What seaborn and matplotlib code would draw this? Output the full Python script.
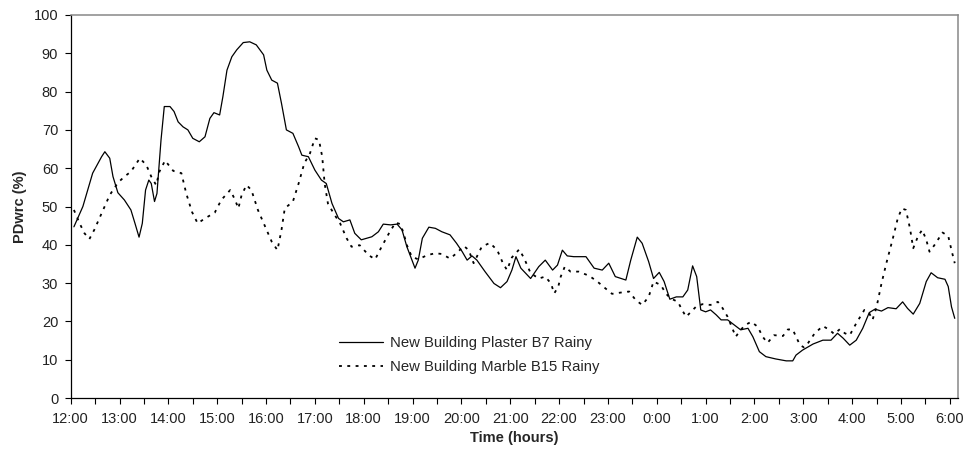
import matplotlib
matplotlib.use("Agg")
import matplotlib.pyplot as plt
import seaborn as sns
import pandas as pd

# Minutes after 12:00 and PDwrc (%) for the plaster room (B7)
plaster_min = [4, 15, 27, 38, 42, 48, 52, 58, 66, 74, 79, 84, 88, 92, 96, 99, 103, 106,
               111, 115, 122, 127, 132, 138, 144, 150, 158, 165, 171, 176, 183, 187, 192,
               198, 204, 212, 220, 228, 237, 241, 247, 254, 259, 265, 273, 280, 284, 292,
               300, 308, 314, 321, 329, 335, 343, 349, 357, 370, 378, 384, 393, 401, 407,
               413, 423, 427, 432, 440, 448, 456, 466, 474, 481, 487, 493, 499, 509, 520,
               528, 536, 542, 547, 553, 565, 575, 583, 592, 598, 604, 610, 618, 633, 643,
               653, 661, 669, 682, 688, 696, 702, 710, 716, 723, 729, 736, 744, 752, 758,
               764, 769, 774, 780, 786, 793, 799, 807, 815, 823, 832, 838, 846, 854, 866,
               879, 887, 891, 899, 912, 924, 934, 942, 949, 957, 965, 973, 981, 988, 996,
               1004, 1014, 1022, 1028, 1035, 1043, 1051, 1057, 1065, 1074, 1078, 1082, 1086]
plaster_val = [44.7, 50.0, 58.7, 63.0, 64.3, 62.6, 57.8, 53.6, 51.7, 49.1, 45.6, 42.0,
               45.6, 54.3, 56.9, 56.0, 51.3, 53.4, 67.4, 76.1, 76.1, 74.8, 72.1, 70.8, 70.0,
               67.8, 66.9, 68.2, 73.0, 74.5, 73.9, 78.7, 85.6, 89.1, 90.9, 92.8, 93.0, 92.2,
               89.6, 85.6, 83.0, 82.2, 76.9, 70.0, 69.1, 65.6, 63.4, 63.0, 59.5, 56.9, 56.0,
               50.8, 46.9, 46.0, 46.5, 43.0, 41.3, 42.1, 43.4, 45.4, 45.2, 45.4, 43.9, 39.5,
               33.9, 36.0, 41.7, 44.6, 44.3, 43.4, 42.6, 40.4, 38.2, 36.0, 37.1, 36.0, 33.0,
               29.9, 28.8, 30.4, 33.4, 36.9, 33.9, 31.2, 34.3, 36.0, 33.4, 34.7, 38.6, 37.1,
               36.9, 36.9, 33.9, 33.4, 35.2, 31.7, 30.8, 36.0, 42.0, 40.4, 35.6, 31.2, 32.8,
               30.4, 25.8, 26.4, 26.4, 28.2, 34.5, 31.7, 23.0, 22.5, 23.0, 21.7, 20.4, 20.4,
               19.1, 17.8, 18.2, 16.0, 12.1, 10.8, 10.2, 9.7, 9.7, 11.2, 12.5, 14.1, 15.1,
               15.1, 16.9, 15.6, 13.8, 15.1, 18.2, 22.3, 23.2, 22.7, 23.6, 23.3, 25.1, 23.4,
               21.9, 24.7, 30.4, 32.7, 31.4, 31.0, 29.1, 23.8, 20.8]

# Minutes after 12:00 and PDwrc (%) for the marble room (B15)
marble_min = [4, 11, 17, 23, 29, 38, 48, 58, 66, 74, 85, 93, 99, 105, 109, 116, 126, 136,
              142, 149, 156, 165, 177, 185, 196, 202, 206, 210, 216, 222, 230, 239, 247,
              254, 259, 263, 273, 280, 287, 294, 300, 305, 309, 312, 316, 323, 331, 339,
              345, 355, 366, 374, 382, 391, 399, 405, 409, 413, 419, 427, 438, 448, 456,
              466, 474, 483, 489, 495, 499, 505, 515, 524, 531, 536, 542, 551, 557, 565,
              575, 583, 590, 594, 599, 602, 607, 614, 624, 637, 647, 657, 665, 678, 686,
              694, 702, 710, 716, 725, 731, 737, 746, 751, 756, 762, 768, 776, 786, 795,
              801, 807, 811, 817, 823, 829, 836, 844, 850, 856, 864, 875, 881, 887, 891,
              896, 901, 906, 914, 924, 932, 938, 945, 951, 957, 965, 975, 981, 985, 990,
              996, 1002, 1010, 1016, 1021, 1026, 1031, 1035, 1041, 1046, 1051, 1055, 1061,
              1071, 1078, 1082, 1086]
marble_val = [49.1, 45.6, 43.0, 41.5, 43.9, 48.2, 53.0, 56.2, 57.8, 59.1, 62.6, 60.8,
              57.8, 55.6, 59.1, 62.0, 59.3, 58.7, 53.4, 48.6, 45.6, 46.9, 48.4, 51.7, 54.3,
              51.7, 49.5, 53.0, 55.6, 54.3, 49.1, 44.7, 40.8, 38.6, 43.9, 49.5, 51.3, 56.0,
              61.3, 63.9, 67.8, 67.4, 63.0, 56.0, 50.8, 48.2, 45.6, 41.7, 39.5, 39.9, 37.3,
              36.2, 39.5, 43.0, 45.8, 45.4, 43.0, 39.9, 36.9, 36.2, 37.3, 37.8, 37.6, 36.4,
              37.8, 39.7, 38.6, 35.2, 36.9, 39.5, 40.5, 38.6, 35.2, 33.4, 36.7, 38.8, 36.5,
              32.6, 31.2, 31.7, 29.9, 27.3, 29.1, 31.7, 34.3, 33.0, 33.0, 31.9, 30.4, 28.6,
              27.2, 27.6, 27.8, 25.6, 24.3, 26.4, 30.4, 29.5, 27.3, 26.0, 25.1, 23.0, 21.2,
              22.5, 23.8, 24.5, 24.3, 25.1, 23.4, 21.2, 19.1, 16.0, 17.8, 19.1, 19.9, 18.6,
              16.0, 14.4, 16.4, 16.2, 17.9, 17.9, 16.0, 13.8, 13.2, 14.4, 16.9, 18.8, 17.8,
              16.7, 18.0, 16.9, 16.4, 19.5, 23.0, 22.1, 20.4, 23.8, 29.9, 35.2, 41.7, 46.9,
              49.5, 49.1, 44.3, 39.1, 42.3, 43.9, 41.3, 38.2, 39.9, 43.2, 42.3, 38.6, 35.2]

hour_labels = ["12:00", "13:00", "14:00", "15:00", "16:00", "17:00", "18:00", "19:00",
               "20:00", "21:00", "22:00", "23:00", "0:00", "1:00", "2:00", "3:00",
               "4:00", "5:00", "6:00"]
series_names = ["New Building Plaster B7 Rainy", "New Building Marble B15 Rainy"]

sns.set_theme(style="white")
plt.rcParams["font.family"] = ["Liberation Sans", "DejaVu Sans"]

plaster = pd.DataFrame({"minutes": plaster_min, "pdwrc": plaster_val})
marble = pd.DataFrame({"minutes": marble_min, "pdwrc": marble_val})

fig = plt.figure(figsize=(9.72, 4.53), dpi=100)
ax = fig.add_axes([0.0727, 0.1214, 0.9129, 0.8455])

sns.lineplot(data=plaster, x="minutes", y="pdwrc", ax=ax, color="black",
             linewidth=0.9, label=series_names[0])
sns.lineplot(data=marble, x="minutes", y="pdwrc", ax=ax, color="black",
             linewidth=1.3, dashes=False, label=series_names[1])
ax.lines[1].set_linestyle((0, (1.6, 3.0)))

ax.set_xlim(0, 1090)
ax.set_ylim(0, 100)
ax.set_yticks(range(0, 101, 10))
half_hours = list(range(0, 1081, 30))
ax.set_xticks(half_hours)
ax.set_xticklabels([hour_labels[i // 2] if i % 2 == 0 else "" for i in range(len(half_hours))])

ax.tick_params(axis="both", which="major", direction="out", length=4, width=0.8,
               color="black", labelsize=10.5, labelcolor="#222222", bottom=True, left=True)
ax.tick_params(axis="x", pad=6)
ax.tick_params(axis="y", pad=5)

for side in ["left", "bottom"]:
    ax.spines[side].set_color("black")
    ax.spines[side].set_linewidth(0.9)
for side in ["top", "right"]:
    ax.spines[side].set_color("#888888")
    ax.spines[side].set_linewidth(1.1)

ax.set_xlabel("Time (hours)", fontsize=10.5, fontweight="bold", labelpad=4)
ax.set_ylabel("PDwrc (%)", fontsize=10.5, fontweight="bold", labelpad=5)

leg = ax.legend(loc="upper left", bbox_to_anchor=(0.287, 0.196), frameon=False,
                fontsize=10.7, handlelength=3.0, handletextpad=0.45, labelspacing=0.65)
for line in leg.get_lines():
    line.set_color("black")

fig.savefig("out.png", dpi=100)
